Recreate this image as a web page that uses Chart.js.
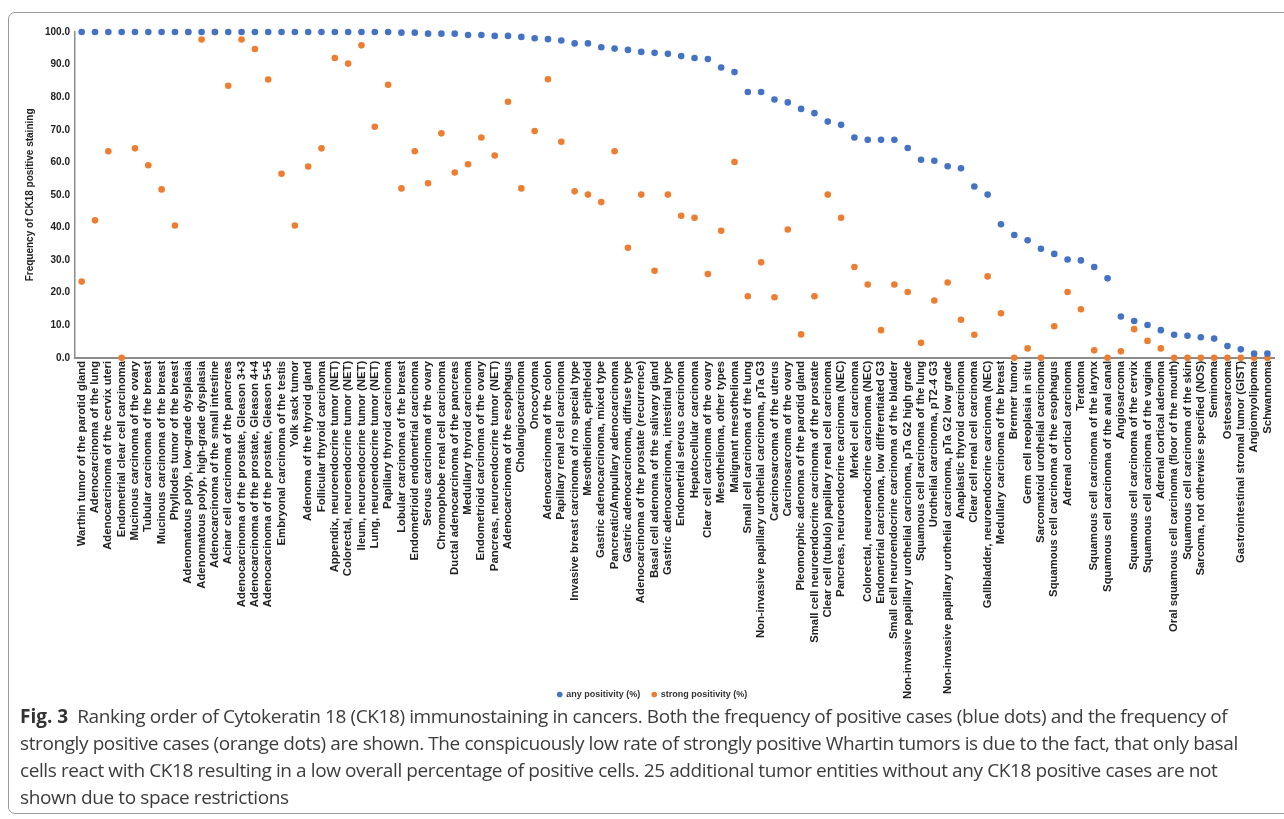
<!DOCTYPE html>
<html>
<head>
<meta charset="utf-8">
<script src="https://cdn.jsdelivr.net/npm/chart.js@4/dist/chart.umd.min.js"></script>
<style>
  html, body { margin: 0; padding: 0; background: #fff; }
  body { width: 1284px; height: 819px; position: relative; overflow: hidden; }
  .frame { position: absolute; left: 8px; top: 12px; width: 1300px; height: 800px; border: 1px solid #9a9a9a; border-radius: 7px; }
  .chartBox { position: absolute; left: 0; top: 0; width: 1284px; height: 733px; }
  .caption { position: absolute; left: 20px; top: 703px; width: 1250px; font-family: "Open Sans", sans-serif; font-size: 19px; letter-spacing: -0.4px; line-height: 27px; color: #3c3c3c; }
  .caption b { color: #333; letter-spacing: 0; }
</style>
</head>
<body>
<div class="frame"></div>
<div class="chartBox"><canvas id="ckChart"></canvas></div>
<div class="caption"><b>Fig. 3</b>&nbsp; Ranking order of Cytokeratin 18 (CK18) immunostaining in cancers. Both the frequency of positive cases (blue dots) and the frequency of strongly positive cases (orange dots) are shown. The conspicuously low rate of strongly positive Whartin tumors is due to the fact, that only basal cells react with CK18 resulting in a low overall percentage of positive cells. 25 additional tumor entities without any CK18 positive cases are not shown due to space restrictions</div>
<script>
const tumorLabels = [
    'Warthin tumor of the parotid gland', 'Adenocarcinoma of the lung', 'Adenocarcinoma of the cervix uteri',
    'Endometrial clear cell carcinoma', 'Mucinous carcinoma of the ovary', 'Tubular carcinoma of the breast',
    'Mucinous carcinoma of the breast', 'Phyllodes tumor of the breast', 'Adenomatous polyp, low-grade dysplasia',
    'Adenomatous polyp, high-grade dysplasia', 'Adenocarcinoma of the small intestine', 'Acinar cell carcinoma of the pancreas',
    'Adenocarcinoma of the prostate, Gleason 3+3', 'Adenocarcinoma of the prostate, Gleason 4+4', 'Adenocarcinoma of the prostate, Gleason 5+5',
    'Embryonal carcinoma of the testis', 'Yolk sack tumor', 'Adenoma of the thyroid gland', 'Follicular thyroid carcinoma',
    'Appendix, neuroendocrine tumor (NET)', 'Colorectal, neuroendocrine tumor (NET)', 'Ileum, neuroendocrine tumor (NET)',
    'Lung, neuroendocrine tumor (NET)', 'Papillary thyroid carcinoma', 'Lobular carcinoma of the breast',
    'Endometrioid endometrial carcinoma', 'Serous carcinoma of the ovary', 'Chromophobe renal cell carcinoma',
    'Ductal adenocarcinoma of the pancreas', 'Medullary thyroid carcinoma', 'Endometrioid carcinoma of the ovary',
    'Pancreas, neuroendocrine tumor (NET)', 'Adenocarcinoma of the esophagus', 'Cholangiocarcinoma', 'Oncocytoma',
    'Adenocarcinoma of the colon', 'Papillary renal cell carcinoma', 'Invasive breast carcinoma of no special type',
    'Mesothelioma, epitheloid', 'Gastric adenocarcinoma, mixed type', 'Pancreatic/Ampullary adenocarcinoma',
    'Gastric adenocarcinoma, diffuse type', 'Adenocarcinoma of the prostate (recurrence)', 'Basal cell adenoma of the salivary gland',
    'Gastric adenocarcinoma, intestinal type', 'Endometrial serous carcinoma', 'Hepatocellular carcinoma',
    'Clear cell carcinoma of the ovary', 'Mesothelioma, other types', 'Malignant mesothelioma', 'Small cell carcinoma of the lung',
    'Non-invasive papillary urothelial carcinoma, pTa G3', 'Carcinosarcoma of the uterus', 'Carcinosarcoma of the ovary',
    'Pleomorphic adenoma of the parotid gland', 'Small cell neuroendocrine carcinoma of the prostate',
    'Clear cell (tubulo) papillary renal cell carcinoma', 'Pancreas, neuroendocrine carcinoma (NEC)', 'Merkel cell carcinoma',
    'Colorectal, neuroendocrine carcinoma (NEC)', 'Endometrial carcinoma, low differentiated G3',
    'Small cell neuroendocrine carcinoma of the bladder', 'Non-invasive papillary urothelial carcinoma, pTa G2 high grade',
    'Squamous cell carcinoma of the lung', 'Urothelial carcinoma, pT2-4 G3', 'Non-invasive papillary urothelial carcinoma, pTa G2 low grade',
    'Anaplastic thyroid carcinoma', 'Clear cell renal cell carcinoma', 'Gallbladder, neuroendocrine carcinoma (NEC)',
    'Medullary carcinoma of the breast', 'Brenner tumor', 'Germ cell neoplasia in situ', 'Sarcomatoid urothelial carcinoma',
    'Squamous cell carcinoma of the esophagus', 'Adrenal cortical carcinoma', 'Teratoma', 'Squamous cell carcinoma of the larynx',
    'Squamous cell carcinoma of the anal canal', 'Angiosarcoma', 'Squamous cell carcinoma of the cervix',
    'Squamous cell carcinoma of the vagina', 'Adrenal cortical adenoma', 'Oral squamous cell carcinoma (floor of the mouth)',
    'Squamous cell carcinoma of the skin', 'Sarcoma, not otherwise specified (NOS)', 'Seminoma', 'Osteosarcoma',
    'Gastrointestinal stromal tumor (GIST)', 'Angiomyolipoma', 'Schwannoma'
];

const anyPositivity = [
    100, 100, 100, 100, 100, 100, 100, 100, 100, 100,
    100, 100, 100, 100, 100, 100, 100, 100, 100, 100,
    100, 100, 100, 100, 99.8, 99.8, 99.5, 99.5, 99.5, 99.1,
    99.1, 98.8, 98.8, 98.5, 98.1, 97.8, 97.4, 96.5, 96.5, 95.3,
    94.9, 94.5, 93.9, 93.6, 93.3, 92.6, 92.0, 91.7, 89.1, 87.7,
    81.6, 81.6, 79.3, 78.4, 76.4, 75.1, 72.5, 71.5, 67.6, 66.9,
    66.9, 66.9, 64.4, 60.8, 60.5, 58.8, 58.2, 52.6, 50.1, 41.0,
    37.7, 36.1, 33.5, 31.9, 30.2, 29.9, 27.9, 24.4, 12.7, 11.3,
    10.1, 8.5, 7.1, 6.8, 6.3, 5.9, 3.6, 2.6, 1.3, 1.3
];

const strongPositivity = [
    23.4, 42.2, 63.4, 0, 64.3, 59.1, 51.7, 40.6, 100, 97.7,
    100, 83.5, 97.7, 94.8, 85.4, 56.5, 40.6, 58.7, 64.3, 92.0,
    90.3, 95.9, 70.9, 83.8, 52.0, 63.4, 53.6, 68.9, 56.9, 59.4,
    67.6, 62.1, 78.6, 52.0, 69.6, 85.5, 66.3, 51.1, 50.1, 47.8,
    63.4, 33.8, 50.1, 26.7, 50.1, 43.6, 43.0, 25.7, 39.0, 60.1,
    18.9, 29.3, 18.6, 39.4, 7.2, 18.9, 50.1, 43.0, 27.9, 22.5,
    8.5, 22.5, 20.2, 4.6, 17.6, 23.1, 11.7, 7.1, 25.0, 13.7,
    0, 2.9, 0, 9.7, 20.2, 14.9, 2.3, 0, 2.0, 8.8,
    5.2, 2.9, 0, 0, 0, 0, 0, 0, 0, 0
];

const yTicks = [0, 10, 20, 30, 40, 50, 60, 70, 80, 90, 100];

// the original puts the legend in the gap between the short labels
const liftLegend = {
    id: 'liftLegend',
    afterLayout(chart) {
        const lg = chart.legend;
        const lift = chart.height - 33 - (692 - 16);
        lg.top -= lift;
        lg.bottom -= lift;
    },
};

const ctx = document.getElementById('ckChart').getContext('2d');
const ckChart = new Chart(ctx, {
    type: 'line',
    data: {
        labels: tumorLabels,
        datasets: [
            {
                label: 'any positivity (%)',
                data: anyPositivity,
                showLine: false,
                backgroundColor: '#4472c4',
                borderColor: '#4472c4',
                pointRadius: 3.3,
                pointBorderWidth: 0,
                clip: false,
            },
            {
                label: 'strong positivity (%)',
                data: strongPositivity,
                showLine: false,
                backgroundColor: '#ed7d31',
                borderColor: '#ed7d31',
                pointRadius: 3.3,
                pointBorderWidth: 0,
                clip: false,
            },
        ],
    },
    plugins: [liftLegend],
    options: {
        responsive: true,
        maintainAspectRatio: false,
        animation: false,
        layout: {
            padding: { left: 24, right: 3, top: 32, bottom: 0 },
        },
        scales: {
            y: {
                min: 0,
                max: 100,
                afterBuildTicks: (axis) => {
                    axis.ticks = yTicks.map((v) => ({ value: v }));
                },
                ticks: {
                    color: '#222',
                    padding: 5,
                    font: { family: 'Liberation Sans, Arial', size: 10, weight: 'bold' },
                    callback: (v) => Number(v).toFixed(1),
                },
                title: {
                    display: true,
                    text: 'Frequency of CK18 positive staining',
                    color: '#222',
                    padding: { top: 0, bottom: 4 },
                    font: { family: 'Liberation Sans, Arial', size: 10, weight: 'bold' },
                },
                grid: { display: false, drawTicks: false },
                border: { display: true, color: '#8c8c8c', width: 1.5 },
            },
            x: {
                offset: true,
                ticks: {
                    autoSkip: false,
                    minRotation: 90,
                    maxRotation: 90,
                    padding: 3,
                    color: '#222',
                    font: { family: 'Liberation Sans, Arial', size: 11.3, weight: 'bold' },
                },
                grid: { display: false, drawTicks: false },
                border: { display: true, color: '#8c8c8c', width: 2 },
            },
        },
        plugins: {
            legend: {
                position: 'bottom',
                labels: {
                    usePointStyle: true,
                    pointStyle: 'circle',
                    boxWidth: 4,
                    boxHeight: 4,
                    padding: 12,
                    color: '#333',
                    font: { family: 'Liberation Sans, Arial', size: 9, weight: 'bold' },
                },
            },
            tooltip: { enabled: false },
        },
    },
});
</script>
</body>
</html>
